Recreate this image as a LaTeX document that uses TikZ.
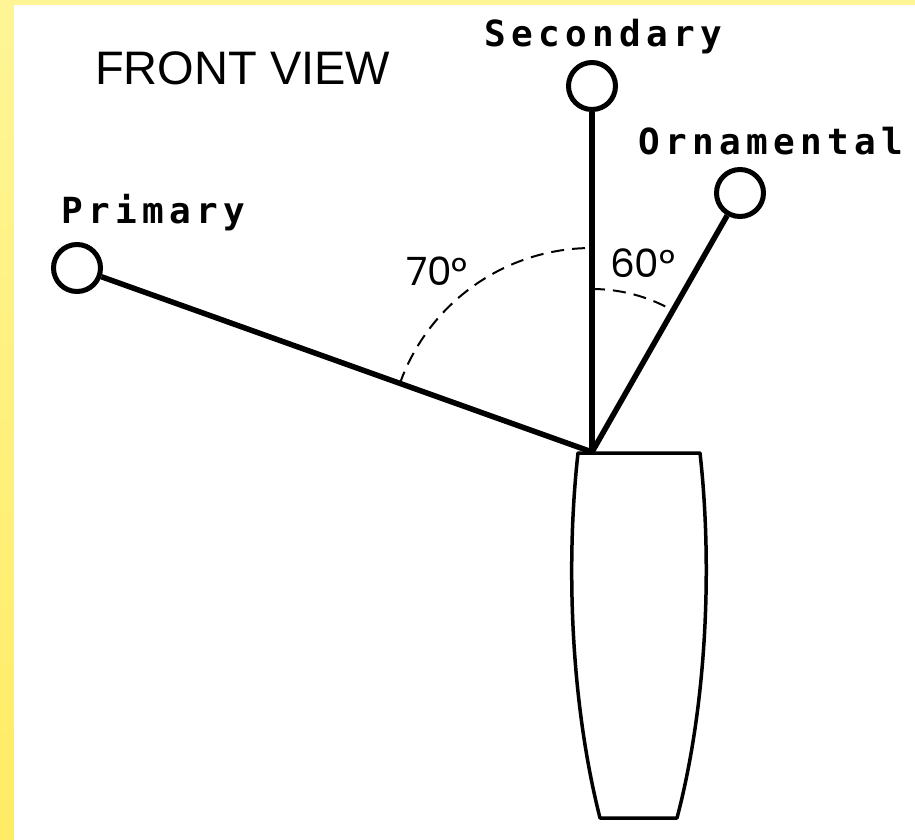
\documentclass[tikz,border=0pt]{standalone}
\usepackage{fontspec}
\usetikzlibrary{calc}
\newfontfamily\lblfont{DejaVu Sans Mono}[LetterSpace=15]
\newfontfamily\titlefont{Liberation Sans}
\newfontfamily\anglefont{Poppins}
\definecolor{bgyellow}{RGB}{255,245,150}
\definecolor{bgyellowdark}{RGB}{255,236,100}
\tikzset{
  bulb/.style={circle, draw, line width=5pt, minimum size=47pt, inner sep=0pt, fill=white},
  stem/.style={line width=5.5pt},
  vaseline/.style={line width=3.5pt, line join=round},
  anglearc/.style={line width=2pt, dash pattern=on 13pt off 8pt},
  lbl/.style={anchor=base west, inner sep=0pt, font=\lblfont\bfseries\fontsize{36}{38}\selectfont},
  ttl/.style={anchor=base west, inner sep=0pt, font=\titlefont\fontsize{47}{50}\selectfont},
  ang/.style={anchor=base west, inner sep=0pt, font=\anglefont\fontsize{39}{40}\selectfont}
}
\begin{document}
\begin{tikzpicture}[x=1pt, y=-1pt]
  \useasboundingbox (0,0) rectangle (915,839);
  % background
  \fill[bgyellow] (0,0) rectangle (915,839);
  \shade[top color=bgyellow, bottom color=bgyellowdark] (0,0) rectangle (14,839);
  \fill[white] (14,5) rectangle (915,839);

  % junction
  \coordinate (J) at (592,452);

  % angle arcs
  \draw[anglearc] ($(J)+(160.5:204pt)$) arc[start angle=160.5, end angle=90, radius=204pt];
  \draw[anglearc] ($(J)+(90:163pt)$) arc[start angle=90, end angle=60.3, radius=163pt];

  % flowers
  \node[bulb] (P) at (77,268) {};
  \node[bulb] (S) at (592,86) {};
  \node[bulb] (O) at (740,193) {};

  \draw[stem] (J) -- (P);
  \draw[stem] (J) -- (S);
  \draw[stem] (J) -- (O);

  % vase
  \draw[vaseline] (578,453) -- (700,453)
    .. controls (712,560) and (708,700) .. (677,818)
    -- (600,818)
    .. controls (570,700) and (566,560) .. (578,453) -- cycle;

  % labels
  \node[ttl] (title) at (95,84) {FRONT VIEW};
  \node[lbl] (lS) at (484,46) {Secondary};
  \node[lbl] (lO) at (638,154) {Ornamental};
  \node[lbl] (lP) at (61,223) {Primary};
  \node[ang] (a70) at (406,285) {70°};
  \node[ang] (a60) at (610,277) {60°};
\end{tikzpicture}
\end{document}
